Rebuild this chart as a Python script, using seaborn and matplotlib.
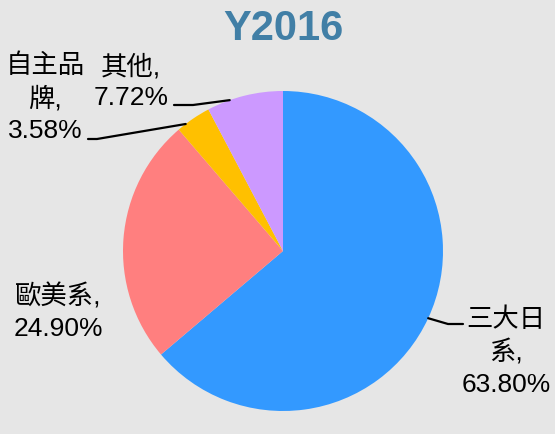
import matplotlib.pyplot as plt
import seaborn as sns
import numpy as np

sns.set_style("white")
plt.rcParams['font.family'] = ['Liberation Sans', 'Noto Sans CJK TC', 'DejaVu Sans']

# DATA HERE
categories = ['三大日系', '歐美系', '自主品牌', '其他']
shares = [63.80, 24.90, 3.58, 7.72]
label_texts = ['三大日\n系,\n63.80%', '歐美系,\n24.90%', '自主品\n牌,\n3.58%', '其他,\n7.72%']
colors = ['#3399FF', '#FF7F7F', '#FFC000', '#CC99FF']

bg = '#E6E6E6'
fig = plt.figure(figsize=(5.55, 4.35), dpi=100, facecolor=bg)
W, H = 555, 435
# pie centre (283, 252) px, radius 160 px
ax = fig.add_axes([123 / W, (H - 252 - 160) / H, 320 / W, 320 / H])
ax.set_facecolor(bg)

wedges, _ = ax.pie(shares, colors=colors, startangle=90, counterclock=False,
                   radius=1, wedgeprops=dict(linewidth=0))
ax.set_xlim(-1, 1)
ax.set_ylim(-1, 1)
ax.set_aspect('equal')
ax.axis('off')


def px(x, y):
    # image pixel -> data coords
    return (x - 283) / 160, (252 - y) / 160


# label positions (text centre) and leader elbows in pixels
text_pos = [(506, 352), (58, 312), (45, 98), (131, 82)]
elbows = [[(448, 325), (463, 325)], None, [(97, 140), (88, 140)], [(193, 106), (174, 106)]]
# where along each wedge the leader line starts (0 = start, 1 = end)
lead_frac = [0.5, 0.5, 0.75, 0.7]

for w, txt, tp, el, f in zip(wedges, label_texts, text_pos, elbows, lead_frac):
    ang = np.deg2rad(w.theta1 + f * (w.theta2 - w.theta1))
    tx, ty = px(*tp)
    ax.text(tx, ty, txt, ha='center', va='center', fontsize=19,
            linespacing=1.38, color='black', clip_on=False)
    if el is not None:
        xs = [np.cos(ang)] + [px(*p)[0] for p in el]
        ys = [np.sin(ang)] + [px(*p)[1] for p in el]
        ax.plot(xs, ys, color='black', lw=1.6, clip_on=False)

fig.text(283 / W, 1 - 29 / H, 'Y2016', ha='center', va='center',
         fontsize=30, fontweight='bold', color='#417FA6')

fig.savefig('out.png', dpi=100, facecolor=bg)
